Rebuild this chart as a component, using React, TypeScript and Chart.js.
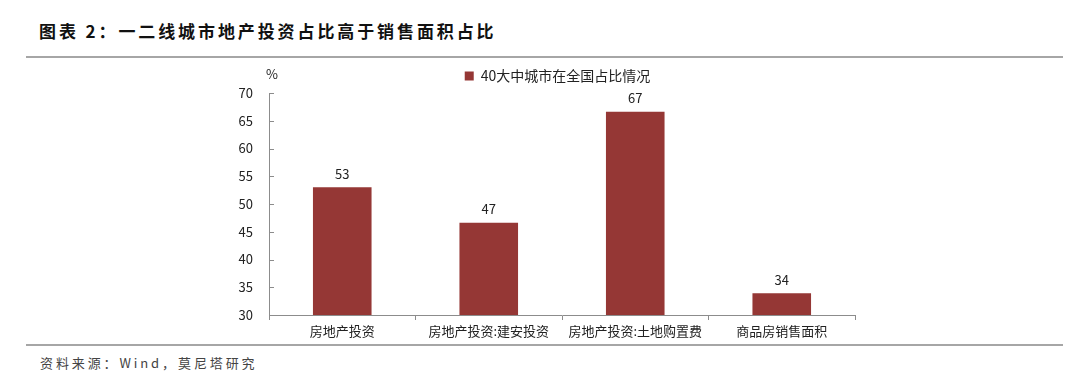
import React, { useEffect, useRef } from "react";
import { Chart, registerables } from "chart.js";

Chart.register(...registerables);

const categories = ["房地产投资", "房地产投资:建安投资", "房地产投资:土地购置费", "商品房销售面积"];
const seriesName = "40大中城市在全国占比情况";
const seriesValues = [53.0, 46.6, 66.6, 33.9];
const dataLabels = ["53", "47", "67", "34"];
const yMin = 30;
const yMax = 70;
const yStep = 5;
const unitLabel = "%";
const titleText = "图表 2：一二线城市地产投资占比高于销售面积占比";
const sourceText = "资料来源：Wind，莫尼塔研究";

const BAR_COLOR = "#953735";
const TEXT_COLOR = "#222222";
const AXIS_COLOR = "#8c8c8c";
const FONT = "'Noto Sans CJK SC', 'Noto Sans', sans-serif";

export default function App() {
  const canvasRef = useRef<HTMLCanvasElement | null>(null);

  useEffect(() => {
    const canvas = canvasRef.current;
    if (!canvas) return;

    const extras = {
      id: "extras",
      afterLayout(chart: any) {
        if (chart.legend) {
          chart.legend.left += 18;
          chart.legend.right += 18;
        }
      },
      afterDraw(chart: any) {
        const ctx = chart.ctx;
        const y = chart.scales.y;
        const area = chart.chartArea;
        ctx.save();
        ctx.strokeStyle = AXIS_COLOR;
        ctx.lineWidth = 1;
        y.ticks.forEach((t: any) => {
          const py = Math.round(y.getPixelForValue(t.value)) + 0.5;
          ctx.beginPath();
          ctx.moveTo(area.left, py);
          ctx.lineTo(area.left + 5, py);
          ctx.stroke();
        });
        ctx.fillStyle = TEXT_COLOR;
        ctx.font = `13px ${FONT}`;
        ctx.textAlign = "center";
        ctx.textBaseline = "middle";
        ctx.fillText(unitLabel, area.left + 3, area.top - 19);
        const meta = chart.getDatasetMeta(0);
        meta.data.forEach((bar: any, i: number) => {
          ctx.textBaseline = "bottom";
          ctx.fillText(dataLabels[i], bar.x, bar.y - 7);
        });
        ctx.restore();
      },
    };

    const chart = new Chart(canvas, {
      type: "bar",
      data: {
        labels: categories,
        datasets: [
          {
            label: seriesName,
            data: seriesValues,
            backgroundColor: BAR_COLOR,
            borderWidth: 0,
            barPercentage: 1,
            categoryPercentage: 0.4,
          },
        ],
      },
      options: {
        responsive: false,
        animation: false,
        maintainAspectRatio: false,
        layout: { padding: { left: 224, right: 225, top: 3, bottom: 0 } },
        plugins: {
          legend: {
            display: true,
            position: "top",
            labels: {
              boxWidth: 9,
              boxHeight: 9,
              padding: 6,
              color: TEXT_COLOR,
              font: { family: FONT, size: 14 },
            },
          },
          tooltip: { enabled: false },
        },
        scales: {
          x: {
            grid: {
              display: true,
              drawOnChartArea: false,
              drawTicks: true,
              tickLength: 5,
              color: AXIS_COLOR,
              offset: true,
            },
            border: { display: true, color: AXIS_COLOR, width: 1 },
            ticks: {
              color: TEXT_COLOR,
              font: { family: FONT, size: 13 },
              padding: 3,
              maxRotation: 0,
              autoSkip: false,
            },
            afterFit(scale: any) {
              scale.height = 30;
            },
          },
          y: {
            min: yMin,
            max: yMax,
            grid: { display: false, drawTicks: false },
            border: { display: true, color: AXIS_COLOR, width: 1 },
            ticks: {
              stepSize: yStep,
              color: TEXT_COLOR,
              font: { family: FONT, size: 13 },
              padding: 16,
            },
            afterFit(scale: any) {
              scale.width = 45;
            },
          },
        },
      },
      plugins: [extras],
    });

    return () => chart.destroy();
  }, []);

  return (
    <div
      style={{
        position: "fixed",
        left: 0,
        top: 0,
        width: 1080,
        height: 386,
        background: "#fff",
        overflow: "hidden",
      }}
    >
      <div
        style={{
          position: "absolute",
          left: 39,
          top: 19,
          fontFamily: "'Noto Sans CJK SC', sans-serif",
          fontWeight: 700,
          fontSize: 17,
          letterSpacing: 2.9,
          lineHeight: "24px",
          color: "#111",
          whiteSpace: "nowrap",
        }}
      >
        {titleText}
      </div>
      <div
        style={{
          position: "absolute",
          left: 26,
          top: 56,
          width: 1037,
          height: 2,
          background: "#a6a6a6",
        }}
      />
      <canvas
        ref={canvasRef}
        width={1080}
        height={285}
        style={{ position: "absolute", left: 0, top: 60, width: 1080, height: 285 }}
      />
      <div
        style={{
          position: "absolute",
          left: 26,
          top: 344,
          width: 1037,
          height: 2,
          background: "#a6a6a6",
        }}
      />
      <div
        style={{
          position: "absolute",
          left: 40,
          top: 353,
          fontFamily: "'Noto Sans CJK SC', sans-serif",
          fontSize: 13,
          letterSpacing: 2.9,
          lineHeight: "20px",
          color: "#444",
          whiteSpace: "nowrap",
        }}
      >
        {sourceText}
      </div>
    </div>
  );
}
